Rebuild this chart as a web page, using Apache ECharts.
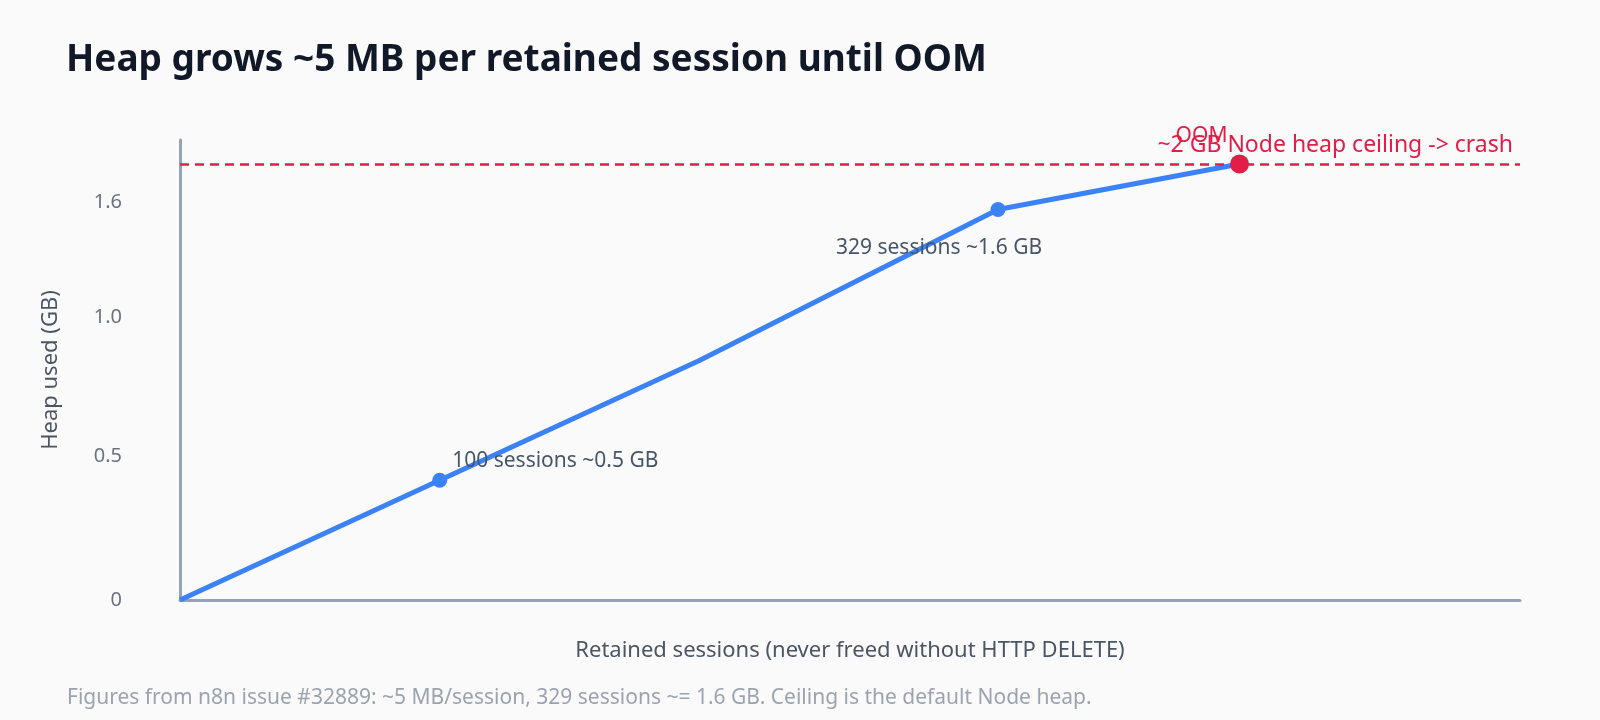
<!DOCTYPE html>
<html>
<head>
<meta charset="utf-8">
<title>Heap grows per retained session</title>
<script src="https://cdn.jsdelivr.net/npm/echarts@6/dist/echarts.min.js"></script>
<style>
  html, body { margin: 0; padding: 0; background: #fafafa; }
  #container { width: 1600px; height: 720px; }
</style>
</head>
<body>
<div id="container"></div>
<script>
// values
var sessions = [0, 100, 200, 315, 408];
var heapGB = [0, 0.5, 1.0, 1.63, 1.82];
var pointNotes = ['', '100 sessions ~0.5 GB', '', '329 sessions ~1.6 GB', 'OOM'];
var ceilingGB = 1.82;
var ceilingText = '~2 GB Node heap ceiling -> crash';
var yTickValues = [0, 0.6, 1.18, 1.66];
var yTickLabels = ['0', '0.5', '1.0', '1.6'];

var BLUE = '#3b82f6';
var RED = '#e11d48';

// how each annotated point is drawn
var noteLayout = {
    1: { position: 'right', offset: [0, -19], color: '#475569', size: 15, dot: BLUE, font: 21 },
    3: { position: 'bottom', offset: [-59, 16], color: '#475569', size: 15, dot: BLUE, font: 21 },
    4: { position: 'top', offset: [-38, -3], color: RED, size: 19, dot: RED, font: 21 }
};

var points = sessions.map(function (s, i) {
    var lay = noteLayout[i];
    if (!lay) {
        return { value: [s, heapGB[i]], symbol: 'none' };
    }
    return {
        value: [s, heapGB[i]],
        symbol: 'circle',
        symbolSize: lay.size,
        itemStyle: { color: lay.dot },
        label: {
            show: true,
            position: lay.position,
            offset: lay.offset,
            formatter: pointNotes[i],
            color: lay.color,
            fontSize: lay.font
        }
    };
});

var myChart = echarts.init(document.getElementById('container'));

myChart.setOption({
    animation: false,
    backgroundColor: '#fafafa',
    textStyle: { fontFamily: 'Noto Sans' },
    title: [{
        text: 'Heap grows ~5 MB per retained session until OOM',
        left: 61,
        top: 37,
        textStyle: { fontSize: 37, fontWeight: 'bold', color: '#111827' }
    }, {
        text: 'Figures from n8n issue #32889: ~5 MB/session, 329 sessions ~= 1.6 GB. Ceiling is the default Node heap.',
        left: 62,
        top: 683,
        textStyle: { fontSize: 21, fontWeight: 'normal', color: '#9ca3af' }
    }],
    grid: { left: 180, right: 80, top: 140, bottom: 120 },
    xAxis: {
        type: 'value',
        min: 0,
        max: 516,
        name: 'Retained sessions (never freed without HTTP DELETE)',
        nameLocation: 'middle',
        nameGap: 40,
        nameTextStyle: { fontSize: 22, color: '#4b5563' },
        axisLine: { show: true, lineStyle: { color: '#94a3b8', width: 3 } },
        axisTick: { show: false },
        axisLabel: { show: false },
        splitLine: { show: false }
    },
    yAxis: {
        type: 'value',
        min: 0,
        max: 1.92,
        name: 'Heap used (GB)',
        nameLocation: 'middle',
        nameGap: 118,
        nameTextStyle: { fontSize: 22, color: '#4b5563' },
        axisLine: { show: true, lineStyle: { color: '#94a3b8', width: 3 } },
        axisTick: { show: false },
        splitLine: { show: false },
        axisLabel: {
            customValues: yTickValues,
            margin: 58,
            fontSize: 20,
            color: '#6b7280',
            formatter: function (v) {
                var best = 0;
                for (var i = 1; i < yTickValues.length; i++) {
                    if (Math.abs(yTickValues[i] - v) < Math.abs(yTickValues[best] - v)) best = i;
                }
                return yTickLabels[best];
            }
        }
    },
    series: [{
        type: 'line',
        data: points,
        symbol: 'circle',
        lineStyle: { color: BLUE, width: 5 },
        itemStyle: { color: BLUE },
        z: 3,
        markLine: {
            silent: true,
            symbol: ['none', 'none'],
            lineStyle: { color: RED, type: [9, 6], width: 2.5 },
            label: {
                position: 'insideEndTop',
                formatter: ceilingText,
                color: RED,
                fontSize: 23,
                distance: 7
            },
            data: [{ yAxis: ceilingGB }]
        }
    }]
});
</script>
</body>
</html>
